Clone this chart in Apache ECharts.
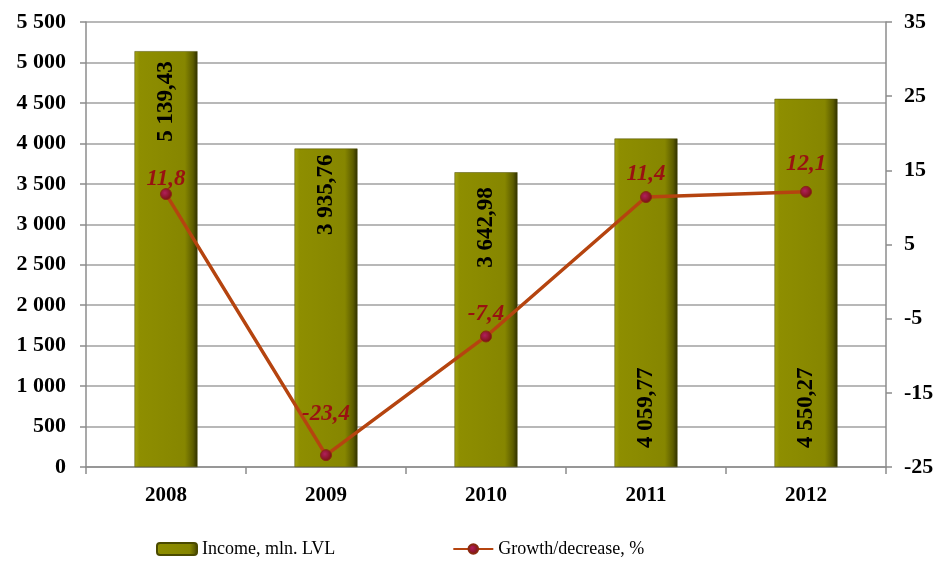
<!DOCTYPE html>
<html>
<head>
<meta charset="utf-8">
<script src="https://cdn.jsdelivr.net/npm/echarts@6/dist/echarts.min.js"></script>
<style>
  html, body { margin: 0; padding: 0; background: #fff; }
  #chart { width: 942px; height: 568px; }
</style>
</head>
<body>
<div id="chart"></div>
<script>
const years = ['2008', '2009', '2010', '2011', '2012']
const income = [5139.43, 3935.76, 3642.98, 4059.77, 4550.27]
const growth = [11.8, -23.4, -7.4, 11.4, 12.1]
// where the bar label sits in each bar
const incomeLabelPos = ['insideTop', 'insideTop', 'insideTop', 'insideBottom', 'insideBottom']
const incomeLabelGap = [10, 6, 15, 19, 19]
const growthLabelGap = [-2, 24, 5, 5, 10]

const serif = '"Liberation Serif", "Times New Roman", serif'
const fmtNum = (v, d) => {
  const parts = v.toFixed(d).split('.')
  const int = parts[0].replace(/\B(?=(\d{3})+(?!\d))/g, ' ')
  return parts[1] ? int + ',' + parts[1] : int
}

const barColor = new echarts.graphic.LinearGradient(0, 0, 1, 0, [
  { offset: 0, color: '#a3a312' },
  { offset: 0.08, color: '#8e8e00' },
  { offset: 0.8, color: '#868600' },
  { offset: 0.93, color: '#5c5c00' },
  { offset: 1, color: '#2e2e00' }
])

const chart = echarts.init(document.getElementById('chart'))

const option = {
  animation: false,
  grid: { left: 86, right: 56, top: 22, bottom: 101 },
  legend: {
    left: 151,
    top: 535,
    itemWidth: 40,
    itemHeight: 12,
    itemGap: 117,
    textStyle: { fontFamily: serif, fontSize: 18, color: '#000' },
    data: ['Income, mln. LVL', 'Growth/decrease, %']
  },
  xAxis: {
    type: 'category',
    data: years,
    axisLine: { lineStyle: { color: '#8c8c8c', width: 1.5 } },
    axisTick: { show: true, length: 7, lineStyle: { color: '#8c8c8c', width: 1.5 } },
    axisLabel: { fontFamily: serif, fontSize: 21, fontWeight: 'bold', color: '#000', margin: 18 }
  },
  yAxis: [
    {
      type: 'value',
      min: 0,
      max: 5500,
      interval: 500,
      axisLine: { show: true, lineStyle: { color: '#8c8c8c', width: 1.5 } },
      axisTick: { show: true, length: 6, lineStyle: { color: '#8c8c8c', width: 1.5 } },
      splitLine: { lineStyle: { color: '#a0a0a0', width: 1.5 } },
      axisLabel: {
        fontFamily: serif, fontSize: 22, fontWeight: 'bold', color: '#000', margin: 20,
        formatter: v => fmtNum(v, 0)
      }
    },
    {
      type: 'value',
      min: -25,
      max: 35,
      interval: 10,
      axisLine: { show: true, lineStyle: { color: '#8c8c8c', width: 1.5 } },
      axisTick: { show: true, length: 6, lineStyle: { color: '#8c8c8c', width: 1.5 } },
      splitLine: { show: false },
      axisLabel: { fontFamily: serif, fontSize: 22, fontWeight: 'bold', color: '#000', margin: 18 }
    }
  ],
  series: [
    {
      name: 'Income, mln. LVL',
      type: 'bar',
      barWidth: 63,
      itemStyle: { color: barColor, borderColor: '#4a4a00', borderWidth: 0.5 },
      data: income.map((v, i) => ({
        value: v,
        label: {
          show: true,
          position: incomeLabelPos[i],
          rotate: 90,
          align: incomeLabelPos[i] === 'insideTop' ? 'right' : 'left',
          verticalAlign: 'middle',
          distance: incomeLabelGap[i],
          fontFamily: serif,
          fontSize: 23,
          fontWeight: 'bold',
          color: '#000',
          formatter: () => fmtNum(v, 2)
        }
      }))
    },
    {
      name: 'Growth/decrease, %',
      type: 'line',
      yAxisIndex: 1,
      symbol: 'circle',
      symbolSize: 11,
      lineStyle: { color: '#b5440f', width: 3.5 },
      itemStyle: {
        color: new echarts.graphic.RadialGradient(0.4, 0.4, 0.6, [
          { offset: 0, color: '#b0205a' },
          { offset: 1, color: '#7a1010' }
        ]),
        borderColor: '#8a2a10',
        borderWidth: 1
      },
      data: growth.map((v, i) => ({
        value: v,
        label: {
          show: true,
          position: 'top',
          distance: growthLabelGap[i],
          fontFamily: serif,
          fontSize: 23,
          fontWeight: 'bold',
          fontStyle: 'italic',
          color: '#991111',
          formatter: () => fmtNum(v, 1)
        }
      }))
    }
  ]
}

chart.setOption(option)
window.addEventListener('resize', () => chart.resize())
</script>
</body>
</html>
